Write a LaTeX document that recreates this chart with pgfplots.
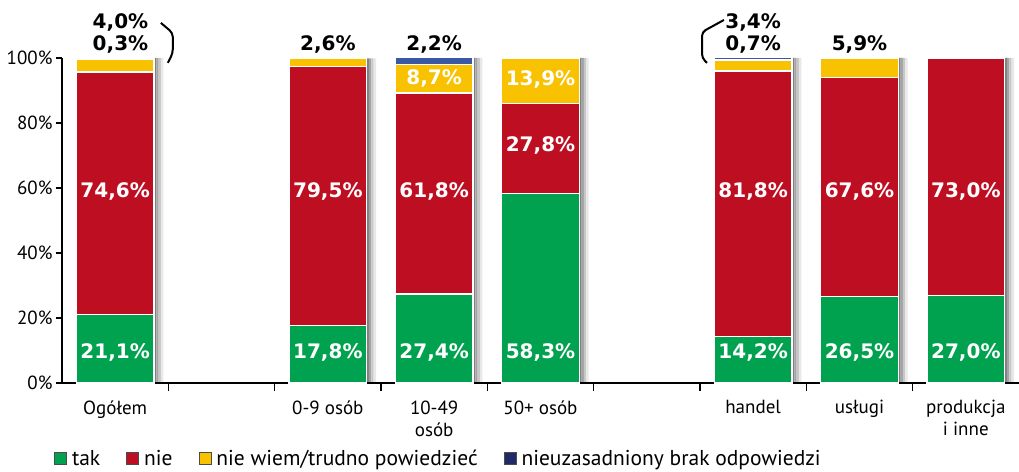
\documentclass[border=0pt]{standalone}
\usepackage{fontspec}
\setmainfont{PT Sans}
\newfontfamily\valfont{DejaVu Sans}
\usepackage{pgfplots}
\pgfplotsset{compat=1.18}
\definecolor{cTak}{HTML}{00A24F}
\definecolor{cNie}{HTML}{BE0F22}
\definecolor{cNw}{HTML}{F9C200}
\definecolor{cBrak}{HTML}{3A58A6}
\definecolor{cBrakLeg}{HTML}{202A66}

% x: 0 Ogolem, 2..4 wielkosc firmy, 6..8 branza
\pgfplotstableread{
x tak nie nw brak tot
0 21.1 74.6 4.0 0.3 100
2 17.8 79.5 2.6 0 99.9
3 27.4 61.8 8.7 2.2 100
4 58.3 27.8 13.9 0 100
6 14.2 81.8 3.4 0.7 100
7 26.5 67.6 5.9 0 100
8 27.0 73.0 0 0 100
}\datatable

\begin{document}
\begin{tikzpicture}
\path[use as bounding box] (-62pt,-88pt) rectangle (957pt,383pt);
\pgfplotsset{base/.style={scale only axis, width=957pt, height=325pt, at={(0,0)}, anchor=south west, xmin=-0.5, xmax=8.5, ymin=0, ymax=100, clip=false}}
\tikzset{vlab/.style={font=\valfont\bfseries\fontsize{20}{22}\selectfont, inner sep=0pt}}

% cienie slupkow (kilka waskich pasow coraz jasniejszych)
\begin{axis}[base, hide axis, ybar, bar width=0.022]
\addplot[draw=none, fill=black!50, bar shift=0.376] table[x=x,y=tot]{\datatable};
\addplot[draw=none, fill=black!36, bar shift=0.398] table[x=x,y=tot]{\datatable};
\addplot[draw=none, fill=black!22, bar shift=0.420] table[x=x,y=tot]{\datatable};
\addplot[draw=none, fill=black!9, bar shift=0.442] table[x=x,y=tot]{\datatable};
\end{axis}

\begin{axis}[base, ybar stacked, bar width=0.73,
  axis x line*=bottom, axis y line*=left, axis line style={line width=2.5pt,-},
  tick align=outside,
  xtick={0,2,3,4,6,7,8},
  xticklabels={Ogółem,0-9 osób,{10-49\\osób},50+ osób,handel,usługi,{produkcja\\i inne}},
  xticklabel style={align=center, font=\fontsize{19}{22}\selectfont, yshift=-8pt},
  minor xtick={0.5,1.5,2.5,3.5,4.5,5.5,6.5,7.5},
  major x tick style={draw=none}, minor x tick style={line width=1.5pt, black},
  minor tick length=8pt, major tick length=6pt,
  ytick={0,20,40,60,80,100},
  yticklabels={0\%,20\%,40\%,60\%,80\%,100\%},
  yticklabel style={font=\fontsize{19}{22}\selectfont},
  major y tick style={line width=1.5pt, black},
  legend columns=4,
  legend style={at={(-0.0115,-0.232)}, anchor=west, draw=none, font=\fontsize{21.5}{23}\selectfont,
    /tikz/every even column/.append style={column sep=24pt}},
  legend cell align=left,
  legend image code/.code={\draw[#1, draw=black!70, line width=0.5pt] (0pt,-6pt) rectangle (12pt,6pt); \path (15pt,0pt);},
]
\addplot[fill=cTak, draw=white, line width=1.2pt] table[x=x,y=tak]{\datatable};
\addplot[fill=cNie, draw=white, line width=1.2pt] table[x=x,y=nie]{\datatable};
\addplot[fill=cNw, draw=white, line width=1.2pt] table[x=x,y=nw]{\datatable};
\addplot[fill=cBrak, draw=white, line width=1.2pt,
  legend image code/.code={\draw[fill=cBrakLeg, draw=black!70, line width=0.5pt] (0pt,-6pt) rectangle (12pt,6pt); \path (15pt,0pt);}] table[x=x,y=brak]{\datatable};
\legend{tak,nie,nie wiem/trudno powiedzieć,nieuzasadniony brak odpowiedzi}
\end{axis}

% etykiety wartosci
\begin{axis}[base, hide axis]
\node[vlab, white] at (axis cs:0,9.5) {21,1\%};
\node[vlab, white] at (axis cs:2,9.5) {17,8\%};
\node[vlab, white] at (axis cs:3,9.5) {27,4\%};
\node[vlab, white] at (axis cs:4,9.5) {58,3\%};
\node[vlab, white] at (axis cs:6,9.5) {14,2\%};
\node[vlab, white] at (axis cs:7,9.5) {26,5\%};
\node[vlab, white] at (axis cs:8,9.5) {27,0\%};
\node[vlab, white] at (axis cs:0,59) {74,6\%};
\node[vlab, white] at (axis cs:2,59) {79,5\%};
\node[vlab, white] at (axis cs:3,59) {61,8\%};
\node[vlab, white] at (axis cs:4,73) {27,8\%};
\node[vlab, white] at (axis cs:6,59) {81,8\%};
\node[vlab, white] at (axis cs:7,59) {67,6\%};
\node[vlab, white] at (axis cs:8,59) {73,0\%};
\node[vlab, white] at (axis cs:3,93.8) {8,7\%};
\node[vlab, white] at (axis cs:4,93.5) {13,9\%};
\node[vlab] at (axis cs:0.05,110.8) {4,0\%};
\node[vlab] at (axis cs:0.05,104) {0,3\%};
\node[vlab] at (axis cs:2,104.3) {2,6\%};
\node[vlab] at (axis cs:3,104.3) {2,2\%};
\node[vlab] at (axis cs:6,111) {3,4\%};
\node[vlab] at (axis cs:6,104) {0,7\%};
\node[vlab] at (axis cs:7,104) {5,9\%};
\draw[line width=2pt, rounded corners=4pt] (axis cs:0.43,110.8) -- (axis cs:0.542,107.7) -- (axis cs:0.542,101.5) -- (axis cs:0.495,98.5);
\draw[line width=2pt, rounded corners=4pt] (axis cs:5.725,111.7) -- (axis cs:5.519,108) -- (axis cs:5.519,100) -- (axis cs:5.566,98.5);
\end{axis}
\end{tikzpicture}
\end{document}
